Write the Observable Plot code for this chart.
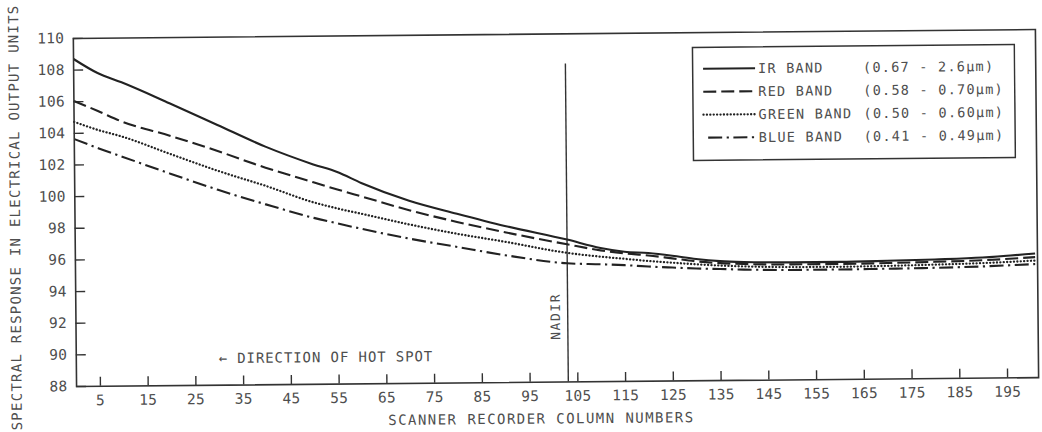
<!DOCTYPE html>
<html><head><meta charset="utf-8">
<script src="https://cdn.jsdelivr.net/npm/d3@7"></script>
<script src="https://cdn.jsdelivr.net/npm/@observablehq/plot@0.6"></script>
<style>
html,body{margin:0;padding:0;background:#fff;overflow:hidden;width:1042px;height:432px}
#chart{position:absolute;left:0;top:0;width:1042px;height:432px;transform:rotate(-0.53deg);transform-origin:521px 216px}
#legend{position:absolute}
</style></head><body><div id="chart"></div>
<script>
// ---- data ----
const columns = [0,5,10,20,30,40,50,55,60,70,80,90,103,110,115,120,125,130,135,140,150,160,170,180,190,201];
const irBand    = [108.7,107.8,107.2,105.85,104.45,103.05,101.9,101.4,100.7,99.55,98.7,97.9,97.0,96.45,96.2,96.1,95.92,95.7,95.55,95.48,95.43,95.43,95.47,95.53,95.62,95.85];
const redBand   = [106.05,105.4,104.72,103.8,102.8,101.72,100.77,100.3,99.85,98.95,98.18,97.5,96.7,96.3,96.1,95.95,95.75,95.55,95.42,95.35,95.3,95.3,95.33,95.38,95.45,95.62];
const greenBand = [104.73,104.2,103.77,102.65,101.55,100.57,99.5,99.1,98.75,98.05,97.43,96.9,96.16,95.9,95.75,95.6,95.48,95.36,95.27,95.2,95.13,95.12,95.15,95.2,95.27,95.4];
const blueBand  = [103.64,103.05,102.5,101.4,100.35,99.4,98.52,98.15,97.8,97.15,96.6,96.05,95.5,95.42,95.35,95.25,95.17,95.1,95.05,95.0,94.95,94.95,94.97,95.0,95.06,95.18];
const bandNames  = ["IR BAND","RED BAND","GREEN BAND","BLUE BAND"];
const bandRanges = ["(0.67 - 2.6µm)","(0.58 - 0.70µm)","(0.50 - 0.60µm)","(0.41 - 0.49µm)"];
const xTicks = [5,15,25,35,45,55,65,75,85,95,105,115,125,135,145,155,165,175,185,195];
const yTicks = [88,90,92,94,96,98,100,102,104,106,108,110];
const xTitle = "SCANNER RECORDER COLUMN NUMBERS";
const yTitle = "SPECTRAL RESPONSE IN ELECTRICAL OUTPUT UNITS";
const nadirColumn = 103, nadirTop = 108.1;
const nadirLabel = "NADIR", nadirLabelAt = [100.5, 92.15];
const hotSpotLabel = "← DIRECTION OF HOT SPOT", hotSpotAt = [29.8, 89.68];

// ---- styles ----
const seriesValues = [irBand, redBand, greenBand, blueBand];
const dashes = ["none", "13,5", "0.1,3.3", "14,4.5,2.2,4.5"];
const caps = ["butt", "butt", "round", "butt"];
const widths = [2.1, 2.1, 2.3, 2.1];
const INK = "#222", TEXT = "#4e4e4e";
const W = 1042, H = 432, mL = 74.5, mR = 5.4, mT = 33.8, mB = 50.1;
const pW = W - mL - mR, pH = H - mT - mB;

const lineMarks = seriesValues.map((vals, i) =>
  Plot.line(columns.map((c, j) => ({column: c, value: vals[j]})), {
    x: "column", y: "value", stroke: INK, strokeWidth: widths[i],
    strokeDasharray: dashes[i], strokeLinecap: caps[i], curve: "monotone-x"
  }));

const plot = Plot.plot({
  width: W, height: H,
  marginLeft: mL, marginRight: mR, marginTop: mT, marginBottom: mB,
  style: {fontFamily: "'DejaVu Sans Mono', monospace", fontSize: "14.5px", color: TEXT, background: "transparent", overflow: "visible"},
  x: {domain: [0, 201.5]},
  y: {domain: [88, 110]},
  marks: [
    Plot.axisY(yTicks, {tickSize: 0, tickPadding: 9, label: null, fill: TEXT}),
    Plot.tickY(yTicks, {insetRight: pW - 10, stroke: "#333", strokeWidth: 1.4}),
    Plot.axisX(xTicks, {tickSize: 0, tickPadding: 8.5, label: null, fill: TEXT}),
    Plot.tickX(xTicks, {insetTop: pH - 9, stroke: "#333", strokeWidth: 1.4}),
    Plot.ruleX([nadirColumn], {y1: 88, y2: nadirTop, stroke: "#333", strokeWidth: 1.4}),
    Plot.text([nadirLabel], {x: () => nadirLabelAt[0], y: () => nadirLabelAt[1], text: d => d, rotate: -90, fill: TEXT, fontSize: 13}),
    Plot.text([hotSpotLabel], {x: () => hotSpotAt[0], y: () => hotSpotAt[1], text: d => d, textAnchor: "start", fill: TEXT, fontSize: 14}),
    Plot.text([yTitle], {frameAnchor: "left", textAnchor: "middle", dx: -59.5, dy: 4.4, rotate: -90, text: d => d, fill: TEXT, fontSize: 14}),
    Plot.text([xTitle], {frameAnchor: "bottom", textAnchor: "middle", dx: -16.5, dy: 41.3, text: d => d, fill: TEXT, fontSize: 14}),
    ...lineMarks,
    Plot.frame({stroke: "#333", strokeWidth: 1.6})
  ]
});

// letter spacing per text (matched by content)
const spacing = new Map([[yTitle, "1.25px"], [xTitle, "1.45px"], [nadirLabel, "1.55px"], [hotSpotLabel, "0.9px"]]);
d3.select(plot).selectAll("text").each(function () {
  const t = this.textContent;
  if (spacing.has(t)) this.setAttribute("letter-spacing", spacing.get(t));
  else if (/^\d+$/.test(t)) this.setAttribute("letter-spacing", "0.3px");
});

const chart = document.getElementById("chart");
chart.appendChild(plot);

// ---- legend ----
const LX = 693.6, LY = 48.6, LW = 321.9, LH = 113;
const leg = d3.create("svg").attr("id", "legend").attr("width", LW + 4).attr("height", LH + 4)
  .style("left", (LX - 2) + "px").style("top", (LY - 2) + "px")
  .style("font-family", "'DejaVu Sans Mono', monospace").style("font-size", "13.5px");
leg.append("rect").attr("x", 2).attr("y", 2).attr("width", LW).attr("height", LH)
  .attr("fill", "#fff").attr("stroke", "#333").attr("stroke-width", 1.5);
bandNames.forEach((name, i) => {
  const y = 2 + 21.4 + i * 23;
  leg.append("line").attr("x1", 2 + 10.4).attr("x2", 2 + 62.4).attr("y1", y).attr("y2", y)
    .attr("stroke", INK).attr("stroke-width", widths[i]).attr("stroke-linecap", caps[i])
    .attr("stroke-dasharray", dashes[i]).attr("stroke-dashoffset", i === 3 ? 20.7 : 0);
  leg.append("text").attr("x", 2 + 65.4).attr("y", y).attr("dy", "0.36em")
    .attr("fill", TEXT).attr("letter-spacing", "1.25px").text(name);
  leg.append("text").attr("x", 2 + 170.4).attr("y", y).attr("dy", "0.36em")
    .attr("fill", TEXT).attr("letter-spacing", "1.25px").text(bandRanges[i]);
});
chart.appendChild(leg.node());
</script>
</body></html>
